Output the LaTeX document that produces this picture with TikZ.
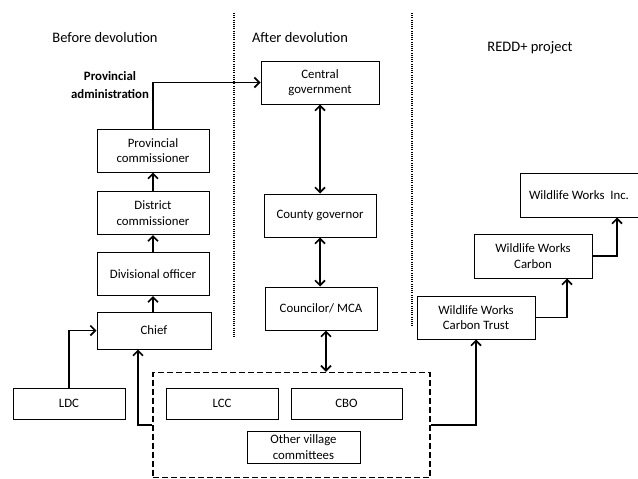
\documentclass[tikz,border=0pt]{standalone}
\usepackage{fontspec}
\setmainfont{Carlito}
\usetikzlibrary{arrows.meta,positioning,calc}

\begin{document}
\begin{tikzpicture}[x=1pt, y=-1pt, >={Straight Barb[length=5pt,width=10pt]}, font=\fontsize{12.8}{15.5}\selectfont,
  box/.style={draw, line width=1pt, align=center, inner sep=2pt},
  link/.style={->, line width=1.7pt},
  both/.style={<->, line width=1.7pt},
  heading/.style={font=\fontsize{14.5}{17}\selectfont},
  divider/.style={line width=1.6pt, dash pattern=on 1pt off 1.2pt}]
\useasboundingbox (0,0) rectangle (638,479);

% column headings
\node(hbefore)[heading] at (105,38) {Before devolution};
\node(hafter)[heading] at (300,38) {After devolution};
\node(hredd)[heading] at (530,48) {REDD+ project};
\draw[divider] (234,13) -- (234,338);
\draw[divider] (412,13) -- (412,326);

% before devolution
\node(pcomm)[box,minimum width=112pt,minimum height=43pt] at (153,150.5) {Provincial\\commissioner};
\node(dcomm)[box,minimum width=112pt,minimum height=43pt] at (153,213) {District\\commissioner};
\node(divoff)[box,minimum width=112pt,minimum height=43pt] at (153,274) {Divisional officer};
\node(chief)[box,minimum width=114pt,minimum height=37pt] at (154,330.5) {Chief};
\node(ldc)[box,minimum width=112pt,minimum height=31pt] at (69,403.5) {LDC};
\node(provadm)[font=\fontsize{12.8}{17.5}\selectfont\bfseries,align=center] at (110,85) {Provincial\\administration};

% after devolution
\node(cgov)[box,minimum width=118pt,minimum height=43pt] at (320,82.5) {Central\\government};
\node(cgovernor)[box,minimum width=112pt,minimum height=43pt] at (320,215.5) {County governor};
\node(mca)[box,minimum width=112pt,minimum height=43pt] at (321,308.5) {Councilor/ MCA};

% village level
\node(vbox)[draw,line width=1.3pt,dash pattern=on 6pt off 3pt,minimum width=277pt,minimum height=105pt] at (291.5,425) {};
\node(lcc)[box,minimum width=112pt,minimum height=31pt] at (222,403.5) {LCC};
\node(cbo)[box,minimum width=111pt,minimum height=31pt] at (346.5,403.5) {CBO};
\node(ovc)[box,minimum width=113pt,minimum height=32pt] at (303.5,447) {Other village\\committees};

% REDD+ project
\node(wwct)[box,minimum width=118pt,minimum height=43pt] at (476,317.5) {Wildlife Works\\Carbon Trust};
\node(wwc)[box,minimum width=118pt,minimum height=44pt] at (533,256) {Wildlife Works\\Carbon};
\node(wwi)[box,minimum width=118pt,minimum height=44pt] at (579,195) {Wildlife Works\ \ Inc.};

% connectors
\draw[link] (pcomm.north) |- (cgov.west);
\draw[link] (dcomm) -- (pcomm);
\draw[link] (divoff) -- (dcomm);
\draw[link] (chief.north -| divoff) -- (divoff);
\draw[link] (ldc.north) |- (chief.west);
\draw[link] (vbox.west) -| ([xshift=-16pt]chief.south);
\draw[both] (cgov) -- (cgovernor);
\draw[both] (cgovernor) -- (cgovernor |- mca.north);
\draw[both] ([xshift=5pt]mca.south) -- ([xshift=5pt]mca.south |- vbox.north);
\draw[link] (vbox.east) -| (wwct.south);
\draw[link] (wwct.east) -| ([xshift=34pt]wwc.south);
\draw[link] (wwc.east) -| ([xshift=38pt]wwi.south);
\end{tikzpicture}
\end{document}
